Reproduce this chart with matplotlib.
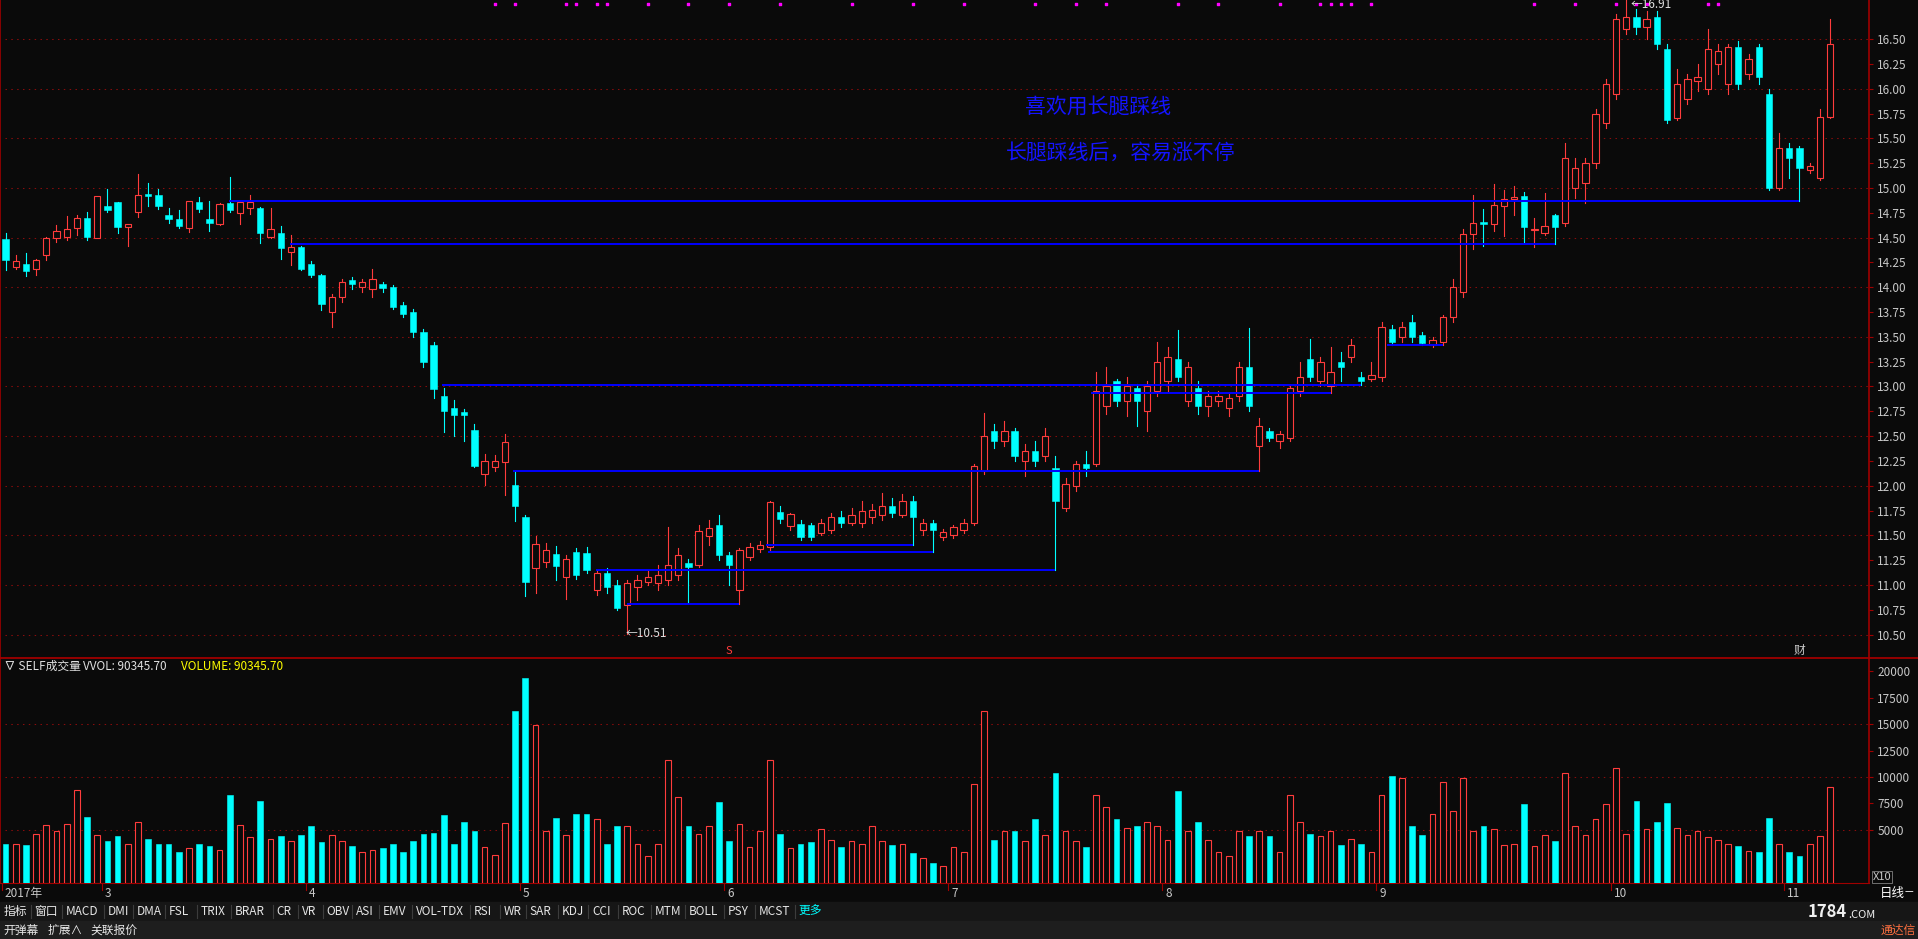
import numpy as np
import matplotlib.pyplot as plt
from matplotlib.patches import Rectangle
from matplotlib.lines import Line2D
from matplotlib import transforms

plt.rcParams['font.family'] = ['Noto Sans CJK SC', 'DejaVu Sans']

# daily bars
opens = [14.49, 14.20, 14.23, 14.18, 14.32, 14.50, 14.51, 14.60, 14.70, 14.50,
         14.82, 14.86, 14.61, 14.76, 14.94, 14.93, 14.73, 14.69, 14.60, 14.86,
         14.69, 14.64, 14.85, 14.75, 14.80, 14.80, 14.51, 14.55, 14.35, 14.41,
         14.23, 14.12, 13.75, 13.90, 14.07, 14.00, 13.98, 14.03, 14.00, 13.82,
         13.75, 13.55, 13.42, 12.90, 12.78, 12.74, 12.56, 12.12, 12.19, 12.24,
         12.01, 11.68, 11.17, 11.23, 11.31, 11.08, 11.33, 11.32, 10.95, 11.12,
         11.00, 10.80, 10.98, 11.03, 11.02, 11.05, 11.10, 11.22, 11.20, 11.49,
         11.60, 11.30, 10.95, 11.28, 11.36, 11.38, 11.73, 11.59, 11.61, 11.60,
         11.52, 11.55, 11.68, 11.62, 11.62, 11.68, 11.70, 11.80, 11.70, 11.85,
         11.55, 11.62, 11.48, 11.50, 11.55, 11.62, 12.15, 12.55, 12.45, 12.55,
         12.25, 12.35, 12.30, 12.18, 11.78, 12.00, 12.22, 12.22, 12.80, 13.05,
         12.85, 12.98, 12.75, 12.95, 13.05, 13.28, 12.85, 12.98, 12.80, 12.85,
         12.78, 12.90, 13.20, 12.40, 12.55, 12.45, 12.48, 12.95, 13.28, 13.05,
         13.00, 13.25, 13.30, 13.10, 13.08, 13.10, 13.58, 13.50, 13.65, 13.52,
         13.42, 13.45, 13.70, 13.95, 14.54, 14.66, 14.64, 14.82, 14.89, 14.92,
         14.58, 14.55, 14.73, 14.65, 15.00, 15.05, 15.25, 15.65, 15.95, 16.60,
         16.72, 16.62, 16.72, 16.40, 15.70, 15.90, 16.08, 16.00, 16.25, 16.05,
         16.42, 16.15, 16.42, 15.95, 15.00, 15.40, 15.40, 15.18, 15.10, 15.72]
highs = [14.55, 14.32, 14.34, 14.28, 14.51, 14.63, 14.72, 14.73, 14.76, 14.92,
         14.99, 14.86, 14.64, 15.14, 15.05, 14.99, 14.80, 14.78, 14.87, 14.91,
         14.87, 14.85, 15.11, 14.87, 14.93, 14.81, 14.80, 14.62, 14.53, 14.42,
         14.26, 14.13, 13.93, 14.08, 14.10, 14.08, 14.18, 14.05, 14.02, 13.85,
         13.78, 13.58, 13.45, 12.98, 12.86, 12.77, 12.62, 12.32, 12.31, 12.52,
         12.15, 11.70, 11.49, 11.42, 11.39, 11.30, 11.37, 11.38, 11.15, 11.17,
         11.05, 11.05, 11.10, 11.15, 11.20, 11.58, 11.37, 11.26, 11.60, 11.65,
         11.70, 11.33, 11.37, 11.42, 11.44, 11.85, 11.80, 11.72, 11.65, 11.62,
         11.66, 11.72, 11.75, 11.78, 11.85, 11.82, 11.93, 11.88, 11.92, 11.90,
         11.66, 11.65, 11.56, 11.60, 11.66, 12.22, 12.73, 12.62, 12.65, 12.58,
         12.42, 12.45, 12.58, 12.30, 12.08, 12.25, 12.35, 13.15, 13.20, 13.08,
         13.10, 13.02, 13.05, 13.45, 13.40, 13.57, 13.25, 13.05, 12.95, 12.95,
         12.93, 13.25, 13.59, 12.68, 12.58, 12.55, 13.00, 13.25, 13.48, 13.30,
         13.40, 13.35, 13.48, 13.15, 13.25, 13.65, 13.62, 13.65, 13.72, 13.55,
         13.50, 13.72, 14.08, 14.59, 14.93, 14.79, 15.04, 14.98, 15.02, 14.96,
         14.70, 14.95, 14.74, 15.45, 15.30, 15.30, 15.80, 16.10, 16.75, 16.91,
         16.80, 16.78, 16.78, 16.45, 16.20, 16.15, 16.25, 16.60, 16.45, 16.45,
         16.48, 16.35, 16.45, 16.00, 15.55, 15.45, 15.42, 15.25, 15.80, 16.70]
lows = [14.17, 14.18, 14.11, 14.12, 14.27, 14.46, 14.48, 14.53, 14.48, 14.50,
        14.76, 14.55, 14.42, 14.71, 14.82, 14.79, 14.65, 14.60, 14.56, 14.76,
        14.57, 14.63, 14.76, 14.64, 14.74, 14.45, 14.50, 14.28, 14.22, 14.17,
        14.10, 13.77, 13.60, 13.85, 13.98, 13.95, 13.90, 13.95, 13.78, 13.70,
        13.50, 13.20, 12.88, 12.54, 12.50, 12.45, 12.19, 12.01, 12.15, 11.91,
        11.64, 10.89, 10.92, 11.18, 11.05, 10.86, 11.06, 11.12, 10.90, 10.92,
        10.75, 10.51, 10.85, 11.00, 10.95, 11.00, 11.05, 10.82, 11.18, 11.40,
        11.25, 11.00, 10.81, 11.25, 11.33, 11.35, 11.62, 11.55, 11.45, 11.45,
        11.50, 11.52, 11.58, 11.60, 11.58, 11.62, 11.65, 11.68, 11.68, 11.40,
        11.50, 11.33, 11.45, 11.47, 11.52, 11.60, 12.12, 12.38, 12.40, 12.25,
        12.10, 12.20, 12.25, 11.15, 11.75, 11.95, 12.10, 12.20, 12.72, 12.80,
        12.70, 12.60, 12.55, 12.90, 12.95, 13.05, 12.80, 12.72, 12.70, 12.80,
        12.70, 12.85, 12.75, 12.15, 12.45, 12.38, 12.45, 12.90, 13.05, 13.00,
        12.93, 13.05, 13.25, 13.01, 13.05, 13.05, 13.42, 13.45, 13.45, 13.42,
        13.40, 13.42, 13.65, 13.90, 14.38, 14.42, 14.57, 14.52, 14.73, 14.46,
        14.41, 14.53, 14.44, 14.62, 14.90, 14.85, 15.20, 15.60, 15.90, 16.55,
        16.55, 16.50, 16.40, 15.65, 15.68, 15.85, 15.98, 15.95, 16.15, 15.95,
        16.00, 16.10, 16.05, 14.98, 14.98, 15.10, 14.87, 15.15, 15.08, 15.70]
closes = [14.27, 14.26, 14.16, 14.27, 14.50, 14.57, 14.59, 14.70, 14.51, 14.92,
          14.78, 14.61, 14.64, 14.93, 14.92, 14.82, 14.69, 14.62, 14.87, 14.79,
          14.65, 14.84, 14.78, 14.86, 14.86, 14.55, 14.59, 14.40, 14.41, 14.18,
          14.12, 13.83, 13.90, 14.05, 14.03, 14.05, 14.08, 13.99, 13.80, 13.73,
          13.55, 13.25, 12.97, 12.75, 12.71, 12.71, 12.20, 12.25, 12.25, 12.44,
          11.80, 11.03, 11.41, 11.35, 11.19, 11.26, 11.10, 11.15, 11.12, 10.98,
          10.77, 11.02, 11.05, 11.08, 11.10, 11.20, 11.30, 11.18, 11.54, 11.57,
          11.30, 11.20, 11.35, 11.38, 11.40, 11.84, 11.66, 11.71, 11.48, 11.48,
          11.62, 11.68, 11.62, 11.70, 11.75, 11.76, 11.80, 11.72, 11.85, 11.68,
          11.62, 11.55, 11.53, 11.58, 11.62, 12.20, 12.50, 12.45, 12.55, 12.30,
          12.35, 12.25, 12.50, 11.85, 12.02, 12.22, 12.18, 12.95, 13.00, 12.85,
          13.00, 12.85, 13.00, 13.25, 13.30, 13.10, 13.20, 12.80, 12.90, 12.90,
          12.88, 13.20, 12.80, 12.60, 12.48, 12.52, 12.98, 13.10, 13.10, 13.25,
          13.15, 13.20, 13.42, 13.05, 13.12, 13.60, 13.45, 13.60, 13.50, 13.44,
          13.47, 13.70, 14.00, 14.54, 14.65, 14.64, 14.83, 14.89, 14.91, 14.61,
          14.59, 14.62, 14.61, 15.30, 15.20, 15.25, 15.75, 16.05, 16.70, 16.72,
          16.62, 16.70, 16.45, 15.68, 16.05, 16.10, 16.12, 16.40, 16.38, 16.42,
          16.05, 16.30, 16.12, 15.00, 15.40, 15.30, 15.20, 15.22, 15.72, 16.45]
volumes = [3700, 3700, 3580, 4620, 5430, 4860, 5550, 8790, 6240, 4510,
           3930, 4390, 3700, 5780, 4160, 3700, 3700, 2890, 3240, 3700,
           3470, 3120, 8320, 5430, 4280, 7750, 4160, 4390, 3930, 4510,
           5320, 3810, 4510, 3930, 3470, 2890, 3120, 3240, 3700, 2890,
           3930, 4620, 4740, 6360, 3700, 5780, 4860, 3350, 2660, 5660,
           16190, 19310, 14910, 4860, 6130, 4510, 6470, 6470, 6010, 3700,
           5320, 5320, 3700, 2540, 3700, 11560, 8090, 5320, 4620, 5320,
           7630, 3930, 5550, 3350, 4860, 11560, 4620, 3240, 3700, 3810,
           5090, 4050, 3350, 3930, 3700, 5320, 3930, 3580, 3700, 2770,
           2310, 1850, 1620, 3350, 2890, 9360, 16190, 4050, 4860, 4860,
           3930, 6010, 4510, 10400, 4860, 3930, 3350, 8320, 7170, 6010,
           5200, 5320, 5780, 5320, 4050, 8670, 4860, 5780, 4050, 2890,
           2540, 4860, 4390, 4860, 4390, 2890, 8320, 5780, 4620, 4390,
           4860, 3580, 4160, 3700, 2890, 8320, 10060, 9940, 5320, 4510,
           6470, 9480, 6820, 9940, 4860, 5320, 5090, 3580, 3700, 7400,
           3470, 4510, 3930, 10400, 5320, 4510, 6010, 7400, 10870, 4620,
           7750, 5090, 5780, 7510, 5200, 4510, 4860, 4280, 4050, 3700,
           3470, 3010, 2890, 6130, 3700, 2890, 2540, 3700, 4390, 9034.57]

month_idx = [0, 10, 30, 51, 71, 93, 114, 135, 158, 175]
month_labels = ['2017年', '3', '4', '5', '6', '7', '8', '9', '10', '11']

# support lines: level, first bar, bar whose long lower shadow touches it
line_price = [14.87, 14.44, 13.01, 12.93, 13.42, 12.15, 11.15, 10.81, 11.40, 11.33]
line_start = [21.9, 27.9, 42.8, 106.5, 135.5, 49.8, 57.9, 61.0, 74.6, 74.8]
line_end = [176, 152, 133, 130, 141, 123, 103, 72, 89, 91]

signal_idx = [48, 50, 55, 56, 58, 59, 63, 67, 71, 76, 83, 89, 94, 101, 105, 108,
              115, 119, 125, 129, 130, 131, 132, 134, 150, 154, 158, 160, 161, 167, 168]

price_ticks = [10.5 + 0.25 * k for k in range(25)]
vol_ticks = [5000, 7500, 10000, 12500, 15000, 17500, 20000]

notes = ['喜欢用长腿踩线', '长腿踩线后，容易涨不停']
tabs = ['指标', '窗口', 'MACD', 'DMI', 'DMA', 'FSL', 'TRIX', 'BRAR', 'CR', 'VR', 'OBV',
        'ASI', 'EMV', 'VOL-TDX', 'RSI', 'WR', 'SAR', 'KDJ', 'CCI', 'ROC', 'MTM',
        'BOLL', 'PSY', 'MCST', '更多']
tab_x = [3, 28, 54, 88, 112, 138, 164, 192, 226, 247, 267, 291, 313, 340, 387,
         412, 433, 459, 484, 508, 535, 563, 595, 620, 653]

BG = '#0a0a0a'
UP = '#ff3c3c'
DOWN = '#00ffff'
GRID = '#8a0c0c'
AXIS = '#a00000'
TXT = '#c8c8c8'
BLUE = '#0000ff'

# layout measured on a 1568x768 grid, scaled to the 1918x939 output
PW, PH = 1568.0, 768.0


def fx(x):
    return x / PW


def fy(y):
    return 1.0 - y / PH


def ix(xd):
    return (xd - 4.5) / 8.333


fig = plt.figure(figsize=(19.18, 9.39), dpi=100, facecolor=BG)

n = len(closes)
up = np.array(closes) >= np.array(opens)
xlim = (ix(0), ix(1528))

ax = fig.add_axes([0, fy(538), fx(1528), 538 / PH])
axv = fig.add_axes([0, fy(722), fx(1528), (722 - 539) / PH])

for a in (ax, axv):
    a.set_facecolor(BG)
    a.set_xlim(*xlim)
    a.set_xticks([])
    for s in ('top', 'bottom'):
        a.spines[s].set_visible(False)
    for s in ('left', 'right'):
        a.spines[s].set_color(AXIS)
        a.spines[s].set_linewidth(1.2)
    a.yaxis.tick_right()
    a.tick_params(axis='y', length=3, width=0.8, color=AXIS, labelcolor=TXT,
                  labelsize=8.5, pad=3)

ax.set_ylim(10.266, 16.894)
axv.set_ylim(0, 21150)
axv.spines['bottom'].set_visible(True)
axv.spines['bottom'].set_color(AXIS)

# dotted grid
dots = (0, (1.4, 4.2))
ax.hlines([10.5 + 0.5 * k for k in range(13)], xlim[0] + 0.5, xlim[1],
          colors=GRID, lw=0.75, linestyles=dots, zorder=0)
axv.hlines([5000, 10000, 15000], xlim[0] + 0.5, xlim[1],
           colors=GRID, lw=0.75, linestyles=dots, zorder=0)

ax.set_yticks(price_ticks)
ax.set_yticklabels(['%.2f' % p for p in price_ticks])
axv.set_yticks(vol_ticks)
axv.set_yticklabels([str(v) for v in vol_ticks])

# candles
bw = 0.62
for i in range(n):
    o, h, l, c = opens[i], highs[i], lows[i], closes[i]
    top, bot = max(o, c), min(o, c)
    if up[i]:
        ax.plot([i, i], [top, h], color=UP, lw=0.8, zorder=3)
        ax.plot([i, i], [l, bot], color=UP, lw=0.8, zorder=3)
        ax.add_patch(Rectangle((i - bw / 2, bot), bw, max(top - bot, 0.005),
                               facecolor=BG, edgecolor=UP, lw=0.8, zorder=4))
    else:
        ax.plot([i, i], [l, h], color=DOWN, lw=0.8, zorder=3)
        ax.add_patch(Rectangle((i - bw / 2, bot), bw, max(top - bot, 0.012),
                               facecolor=DOWN, edgecolor=DOWN, lw=0.4, zorder=4))

# support lines
ax.hlines(line_price, line_start, line_end, colors=BLUE, lw=1.4, zorder=5)

# signal dots along the top
ax.scatter(signal_idx, [16.855] * len(signal_idx), marker='s', s=3.5,
           color='#ff00ff', zorder=6, clip_on=False)

# high / low marks
hi = int(np.argmax(highs))
lo = int(np.argmin(lows))
tr_hi = transforms.blended_transform_factory(ax.transData, fig.transFigure)
ax.text(hi + 0.4, fy(3.5), '←%.2f' % highs[hi], color='#e0e0e0', fontsize=8.5,
        va='center', ha='left', zorder=7, transform=tr_hi)
ax.text(lo - 0.2, lows[lo], '←%.2f' % lows[lo], color='#e0e0e0', fontsize=8.5,
        va='center', ha='left', zorder=7)
ax.text(71, 10.33, 'S', color=UP, fontsize=8, ha='center', va='center')
ax.text(176, 10.34, '财', color=TXT, fontsize=8.5, ha='center', va='center')

# notes
fig.text(fx(838), fy(87), notes[0], color='#1414ff', fontsize=15, va='center')
fig.text(fx(822), fy(125), notes[1], color='#1414ff', fontsize=15, va='center')

# volume bars
vw = 0.56
for i in range(n):
    if up[i]:
        axv.add_patch(Rectangle((i - vw / 2, 0), vw, volumes[i], facecolor=BG,
                                edgecolor=UP, lw=0.8, zorder=3))
    else:
        axv.add_patch(Rectangle((i - vw / 2, 0), vw, volumes[i], facecolor=DOWN,
                                edgecolor=DOWN, lw=0.4, zorder=3))

fig.text(fx(3), fy(545), '∇ SELF成交量', color='#e0e0e0', fontsize=8.5, va='center')
fig.text(fx(68), fy(545), 'VVOL: %.2f' % (volumes[-1] * 10), color='#e0e0e0',
         fontsize=8.5, va='center')
fig.text(fx(148), fy(545), 'VOLUME: %.2f' % (volumes[-1] * 10), color='#ffff00',
         fontsize=8.5, va='center')
fig.text(fx(1531), fy(717), 'X10', color=TXT, fontsize=8, va='center',
         bbox=dict(facecolor=BG, edgecolor='#808080', lw=0.6, pad=0.8))

# separator between the two panels
fig.add_artist(Line2D([0, 1], [fy(538.5)] * 2, color=AXIS, lw=1.3,
                      transform=fig.transFigure))

# month axis under the volume panel
tr = transforms.blended_transform_factory(axv.transData, fig.transFigure)
tr_lab = transforms.offset_copy(tr, fig=fig, x=2, y=0, units='points')
for k, lab in zip(month_idx, month_labels):
    xm = k - 0.5 if k else xlim[0] + 0.2
    fig.add_artist(Line2D([xm, xm], [fy(722), fy(728)], color=AXIS, lw=0.8,
                          transform=tr))
    fig.text(xm, fy(731), lab, color=TXT, fontsize=8.5, va='center', ha='left',
             transform=tr_lab)
fig.text(fx(1537), fy(731), '日线', color='#ffffff', fontsize=9, va='center')
fig.text(fx(1557), fy(730), '—', color='#ffffff', fontsize=7, va='center')

# toolbar rows
fig.add_artist(Rectangle((0, fy(753)), 1, (753 - 738) / PH, color='#161616',
                         transform=fig.transFigure, zorder=0))
fig.add_artist(Rectangle((0, 0), 1, (768 - 753) / PH, color='#1e1e1e',
                         transform=fig.transFigure, zorder=0))
for t, x in zip(tabs, tab_x):
    fig.text(fx(x), fy(745.5), t, color=DOWN if t == '更多' else '#e6e6e6',
             fontsize=8.5, va='center')
for x in tab_x[1:]:
    fig.add_artist(Line2D([fx(x - 3)] * 2, [fy(740), fy(751)], color='#3c3c3c',
                          lw=0.8, transform=fig.transFigure))
for t, x in zip(['开弹幕', '扩展∧', '关联报价'], [3, 39, 74]):
    fig.text(fx(x), fy(761), t, color='#e6e6e6', fontsize=8.5, va='center')
fig.text(fx(1478), fy(746), '1784', color='#f0f0f0', fontsize=12,
         fontweight='bold', va='center')
fig.text(fx(1511), fy(748), '.COM', color='#f0f0f0', fontsize=8, va='center')
fig.text(fx(1537), fy(761), '通达信', color='#ff7040', fontsize=8.5, va='center')

fig.savefig('out.png', dpi=100, facecolor=BG)
